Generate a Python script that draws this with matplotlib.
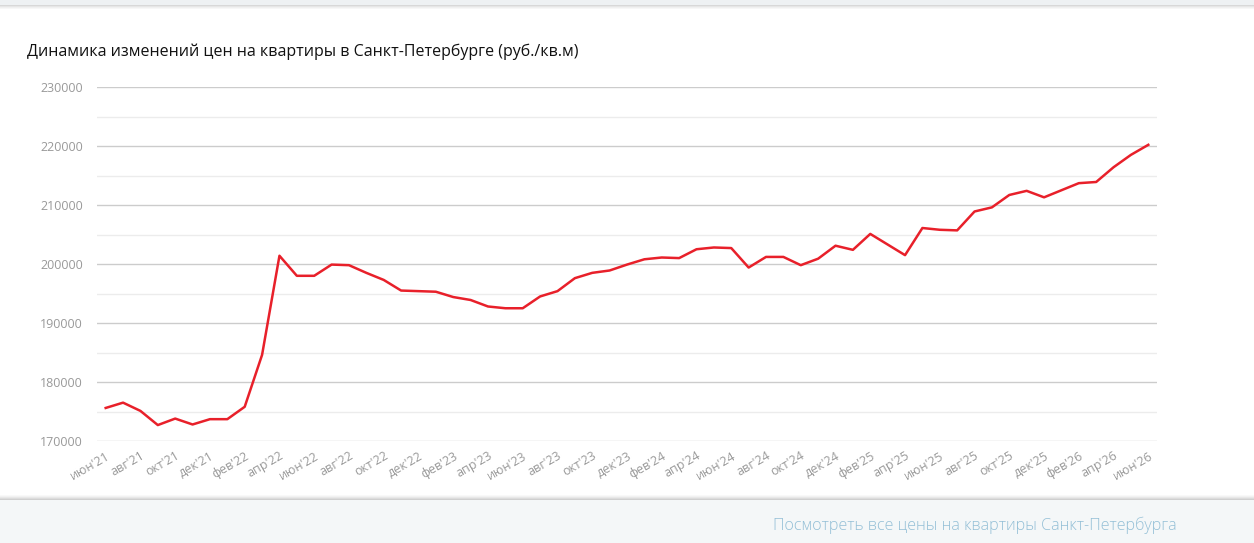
import numpy as np
import matplotlib.pyplot as plt
from matplotlib.patches import Rectangle
from matplotlib.ticker import MultipleLocator

plt.rcParams['font.family'] = ['Open Sans', 'DejaVu Sans']

# Данные: цены (руб./кв.м) помесячно, июн'21 - июн'26
prices = [
    175600, 176500, 175100, 172700, 173800, 172800, 173700, 173700, 175800, 184600,
    201400, 198000, 198000, 199900, 199800, 198500, 197300, 195500, 195400, 195300,
    194400, 193900, 192800, 192500, 192500, 194500, 195400, 197600, 198500, 198900,
    199900, 200800, 201100, 201000, 202500, 202800, 202700, 199400, 201200, 201200,
    199800, 200900, 203100, 202400, 205100, 203300, 201500, 206100, 205800, 205700,
    208900, 209600, 211700, 212400, 211300, 212500, 213700, 213900, 216400, 218500,
    220200,
]
month_names = ['янв', 'фев', 'мар', 'апр', 'май', 'июн',
               'июл', 'авг', 'сен', 'окт', 'ноя', 'дек']
months = []
for i in range(len(prices)):
    m = (5 + i) % 12
    y = 21 + (5 + i) // 12
    months.append(f"{month_names[m]}'{y}")

title = 'Динамика изменений цен на квартиры в Санкт-Петербурге (руб./кв.м)'
footer = 'Посмотреть все цены на квартиры Санкт-Петербурга'

W, H = 1254, 543
fig = plt.figure(figsize=(W / 100, H / 100), dpi=100)
fig.patch.set_facecolor('white')

# верхняя полоса и нижняя панель
fig.patches.append(Rectangle((0, 1 - 5 / H), 1, 5 / H, transform=fig.transFigure,
                             facecolor='#eef1f3', edgecolor='none', zorder=0))
for k, c in enumerate(['#d8d8d8', '#e6e6e6', '#f0f0f0', '#f7f7f7']):
    fig.patches.append(Rectangle((0, 1 - (6 + k) / H), 1, 1 / H, transform=fig.transFigure,
                                 facecolor=c, edgecolor='none', zorder=0))
fig.patches.append(Rectangle((0, 0), 1, 43 / H, transform=fig.transFigure,
                             facecolor='#f4f7f8', edgecolor='none', zorder=0))
for k, c in enumerate(['#cfcfcf', '#dcdcdc', '#e8e8e8', '#f2f2f2', '#f9f9f9']):
    fig.patches.append(Rectangle((0, (43 + k) / H), 1, 1 / H, transform=fig.transFigure,
                                 facecolor=c, edgecolor='none', zorder=0))

ax = fig.add_axes([97 / W, 1 - 441 / H, (1157 - 97) / W, (441 - 87) / H])
x = np.arange(len(prices))
ax.plot(x, prices, color='#e8202a', linewidth=1.8, zorder=3)

ax.set_xlim(-0.5, len(prices) - 0.5)
ax.set_ylim(170000, 230000)
ax.yaxis.set_major_locator(MultipleLocator(10000))
ax.yaxis.set_minor_locator(MultipleLocator(5000))
ax.grid(which='major', axis='y', color='#cccccc', linewidth=1)
ax.grid(which='minor', axis='y', color='#ececec', linewidth=1)
ax.set_axisbelow(True)
for s in ax.spines.values():
    s.set_visible(False)

ax.set_xticks(x[::2])
ax.set_xticklabels(months[::2], rotation=30, ha='right', rotation_mode='anchor',
                   fontsize=9, color='#999999')
ax.tick_params(axis='x', length=0, pad=6)
ax.tick_params(axis='y', which='both', length=0, pad=10, labelsize=9, labelcolor='#999999')

fig.text(27 / W, 1 - 52 / H, title, fontsize=11.5, color='#111111', va='center', ha='left')
fig.text(1177 / W, 1 - 525 / H, footer, fontsize=11.6, color='#93bfd6', va='center',
         ha='right', fontweight='light')

fig.savefig('out.png', dpi=100)
